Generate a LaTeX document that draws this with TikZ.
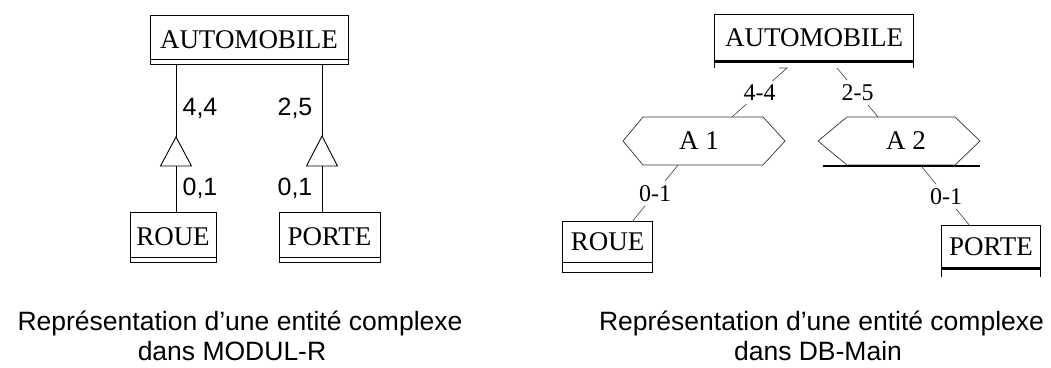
\documentclass[tikz,border=0pt]{standalone}
\usepackage{fontspec}
\setmainfont{Liberation Serif}
\setsansfont{Liberation Sans}
\usetikzlibrary{calc}
\begin{document}
\begin{tikzpicture}[x=1pt,y=-1pt,line width=0.9pt,
  enttext/.style={font=\fontsize{27}{30}\selectfont,inner sep=0pt},
  entbox/.style={enttext,draw},
  cardL/.style={font=\sffamily\fontsize{25}{28}\selectfont,inner sep=1pt},
  cardR/.style={font=\fontsize{24}{28}\selectfont,fill=white,inner sep=4pt},
  captext/.style={font=\sffamily\fontsize{26.5}{30}\selectfont,anchor=base},
  conn/.style={line width=0.6pt,draw=black!75},
  hexline/.style={line width=0.7pt,draw=black!80},
  thick bar/.style={line width=2.4pt}]
\useasboundingbox (0,0) rectangle (1051,367);
\fill[white] (0,0) rectangle (1051,367);

% ---------------- MODUL-R ----------------
\node[entbox,minimum width=198pt,minimum height=49pt] (autoL) at (249,39.5) {AUTOMOBILE};
\draw ([yshift=5pt]autoL.south west) -- ([yshift=5pt]autoL.south east);
\node[entbox,minimum width=86pt,minimum height=50pt] (roueL) at (173,237) {ROUE};
\draw ([yshift=5pt]roueL.south west) -- ([yshift=5pt]roueL.south east);
\node[entbox,minimum width=101pt,minimum height=50pt] (porteL) at (329.5,237) {PORTE};
\draw ([yshift=5pt]porteL.south west) -- ([yshift=5pt]porteL.south east);

\coordinate (t1a) at (176,137);
\coordinate (t1b) at (176,166);
\coordinate (t2a) at (322,136);
\coordinate (t2b) at (322,166);
\draw (t1a) -- ++(-15.5,29) -- ++(31,0) -- cycle;
\draw (t2a) -- ++(-15.5,30) -- ++(31,0) -- cycle;
\draw (t1a |- autoL.south) -- (t1a);
\draw (t1b) -- (t1b |- roueL.north);
\draw (t2a |- autoL.south) -- (t2a);
\draw (t2b) -- (t2b |- porteL.north);

\node[cardL] (c44) at (200,108) {4,4};
\node[cardL] (c01a) at (200,188) {0,1};
\node[cardL] (c25) at (295,108) {2,5};
\node[cardL] (c01b) at (295,188) {0,1};

% ---------------- DB-Main ----------------
\node[enttext,minimum width=198pt,minimum height=46pt] (autoR) at (814,38) {AUTOMOBILE};
\draw ([yshift=-7pt]autoR.south west) -- (autoR.north west) -- (autoR.north east) -- ([yshift=-7pt]autoR.south east);
\draw[thick bar] (autoR.south west) -- (autoR.south east);

\node[enttext] (A1) at (699,141) {A 1};
\draw[hexline] (623,141) -- (643,117) -- (763,117) -- (785,141) -- (763,165) -- (643,165) -- cycle;
\node[enttext] (A2) at (906,141) {A 2};
\draw[hexline] (818,141) -- (847,117) -- (955,117) -- (980,141) -- (955,165) -- (847,165) -- cycle;
\draw[thick bar] (823,166) -- (980,166);

\node[enttext,minimum width=89pt,minimum height=40pt] (roueR) at (607.5,242) {ROUE};
\draw ([yshift=-10pt]roueR.south west) rectangle (roueR.north east);
\draw (roueR.south west) -- (roueR.south east);
\node[enttext,minimum width=98pt,minimum height=42pt] (porteR) at (991,247) {PORTE};
\draw ([yshift=-9pt]porteR.south west) -- (porteR.north west) -- (porteR.north east) -- ([yshift=-9pt]porteR.south east);
\draw[thick bar] (porteR.south west) -- (porteR.south east);

\coordinate (a1top) at (732,117);
\coordinate (a1bot) at (678,165);
\coordinate (a2top) at (878,117);
\coordinate (a2bot) at (922,167);
\coordinate (autoR1) at (787,68);
\coordinate (autoR2) at (837,68);
\coordinate (roueRt) at (632,222);
\coordinate (porteRt) at (970,226);

\draw[conn] (a1top) -- node[cardR] (l44) {4-4} (autoR1) -- ++(-8,0);
\draw[conn] (autoR2) -- node[cardR] (l25) {2-5} (a2top);
\draw[conn] (a1bot) -- node[cardR] (l01a) {0-1} (roueRt);
\draw[conn] (a2bot) -- node[cardR] (l01b) {0-1} (porteRt);

% ---------------- captions ----------------
\node[captext] (capL1) at (240,330) {Représentation d'une entité complexe};
\node[captext] (capL2) at (232,360) {dans MODUL-R};
\node[captext] (capR1) at (821.5,330) {Représentation d'une entité complexe};
\node[captext] (capR2) at (818,360) {dans DB-Main};
\end{tikzpicture}
\end{document}
